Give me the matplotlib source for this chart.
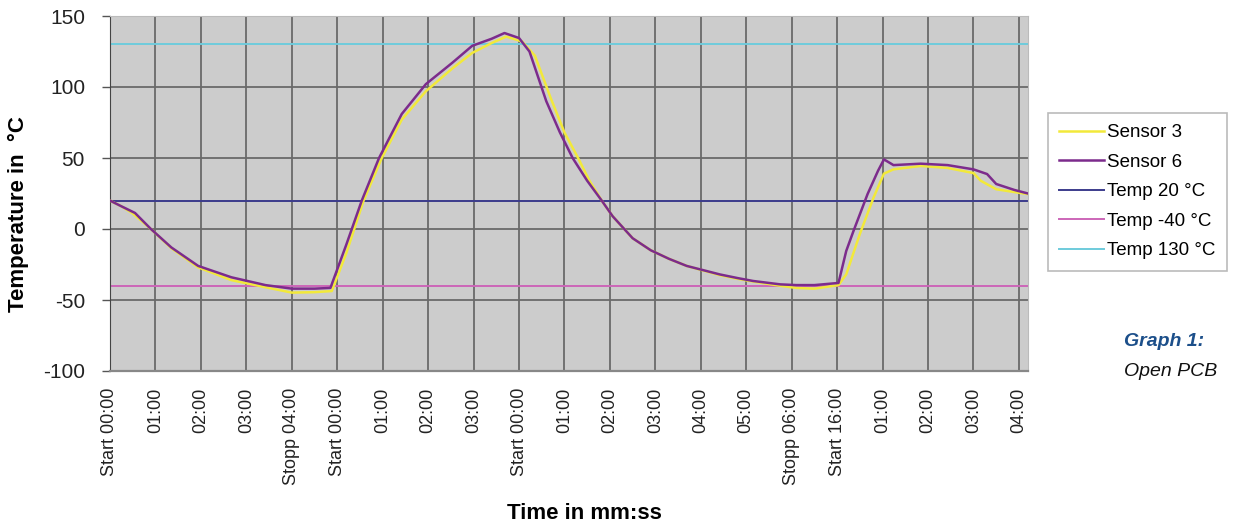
import numpy as np
import matplotlib
matplotlib.use("Agg")
import matplotlib.pyplot as plt

plt.rcParams['font.family'] = ['Liberation Sans', 'DejaVu Sans']
plt.rcParams['axes.unicode_minus'] = False

# _____________________________________
# Data (x = category position on the time axis)

tick_labels = ["Start 00:00", "01:00", "02:00", "03:00", "Stopp 04:00",
               "Start 00:00", "01:00", "02:00", "03:00", "Start 00:00",
               "01:00", "02:00", "03:00", "04:00", "05:00", "Stopp 06:00",
               "Start 16:00", "01:00", "02:00", "03:00", "04:00"]

# Sensor 3 (yellow)
t_s3 = [0, 0.25, 0.5, 0.9, 1.35, 1.94, 2.67, 3.42, 4.0, 4.5, 4.88,
        5.2, 5.58, 5.98, 6.42, 6.95, 7.53, 7.97, 8.4, 8.72, 9.07, 9.35,
        9.7, 10.0, 10.3, 10.55, 10.82, 11.06, 11.5, 11.9, 12.3, 12.69,
        13.42, 13.8, 14.15, 14.75, 15.1, 15.5, 16.03, 16.2, 16.5, 16.8,
        17.03, 17.24, 17.84, 18.43, 19.0, 19.16, 19.5, 19.9, 20.2]
sensor3 = [20, 16, 11, 0, -13.5, -27, -36, -41, -44.8, -44.5, -43.7,
           -17, 20, 50, 77, 97, 113, 124, 131, 135.5, 132, 122,
           92, 68, 50, 34, 20, 9, -6.5, -15, -21, -26,
           -32.5, -35, -37, -40, -41.5, -42, -39.5, -32, -3.5, 22,
           39, 42, 44.4, 43, 39.4, 34, 28, 26, 24.6]

# Sensor 6 (purple)
t_s6 = [0, 0.25, 0.55, 0.9, 1.35, 1.94, 2.67, 3.42, 4.0, 4.5, 4.85,
        5.2, 5.54, 5.92, 6.42, 6.95, 7.53, 7.97, 8.4, 8.68, 9.0, 9.23,
        9.6, 9.9, 10.18, 10.5, 10.82, 11.06, 11.5, 11.9, 12.3, 12.69,
        13.42, 13.8, 14.15, 14.75, 15.1, 15.5, 16.03, 16.2, 16.36, 16.67,
        16.9, 17.03, 17.24, 17.84, 18.43, 19.0, 19.3, 19.5, 19.9, 20.2]
sensor6 = [20, 16, 11.3, 0, -13, -26, -34, -39.5, -42, -42, -41.5,
           -11, 20, 50, 81, 102, 117, 129, 134, 138, 134.5, 125,
           90, 68, 50, 34, 20, 9, -6.5, -15, -21, -26,
           -32, -34.5, -36.6, -39, -39.5, -39.5, -38, -15.5, -1.4, 24.6,
           41, 49, 45, 46, 45, 42, 38.7, 31.7, 27.5, 25]

ref_labels = ["Temp 20 °C", "Temp -40 °C", "Temp 130 °C"]
ref_temps = [20, -40, 130]
ref_colors = ["#3c3c8c", "#cc66b8", "#6ecbdc"]

# _____________________________________
# Figure

fig = plt.figure(figsize=(12.36, 5.26), dpi=100)
ax = fig.add_axes([110/1236, 1 - 371/526, 918/1236, 355/526])
ax.set_facecolor("#cccccc")

ref_handles = []
for temp, col, lab in zip(ref_temps, ref_colors, ref_labels):
    h = ax.axhline(temp, color=col, lw=1.4, label=lab, zorder=2)
    ref_handles.append(h)

h3, = ax.plot(t_s3, sensor3, color="#f2e93a", lw=1.8, label="Sensor 3", zorder=3)
h6, = ax.plot(t_s6, sensor6, color="#7c2b8c", lw=1.8, label="Sensor 6", zorder=4)

ax.set_xlim(0, 20.2)
ax.set_ylim(-100, 150)
ax.set_yticks(np.arange(-100, 151, 50))
ax.set_xticks(np.arange(len(tick_labels)))
ax.set_xticklabels(tick_labels, rotation=90, fontsize=13, color="#222222")
ax.tick_params(axis='y', labelsize=15, length=6, width=1, color="#555555",
               pad=12, labelcolor="#222222")
ax.tick_params(axis='x', length=0, pad=12)
ax.grid(True, color="#6a6a6a", lw=1.3, zorder=1)
ax.set_axisbelow(True)

ax.spines['left'].set_color("#444444")
ax.spines['bottom'].set_color("#888888")
ax.spines['bottom'].set_linewidth(1.6)
ax.spines['top'].set_color("#bbbbbb")
ax.spines['right'].set_color("#bbbbbb")

ax.set_ylabel("Temperature in  °C", fontsize=16, fontweight='bold')
ax.yaxis.set_label_coords(-0.088, 0.442)
ax.set_xlabel("Time in mm:ss", fontsize=16, fontweight='bold')
ax.xaxis.set_label_coords(0.517, -0.372)

leg = fig.legend(handles=[h3, h6] + ref_handles,
                 loc='upper left', bbox_to_anchor=(1048/1236, 1 - 113/526),
                 fontsize=13.5, frameon=True, fancybox=False,
                 handlelength=2.4, handletextpad=0.15, labelspacing=0.66,
                 borderpad=0.6, borderaxespad=0)
leg.get_frame().set_edgecolor("#aaaaaa")
leg.get_frame().set_linewidth(1.2)

fig.text(1124/1236, 1 - 346/526, "Graph 1:", fontsize=14, fontweight='bold',
         fontstyle='italic', color="#1c4f8a")
fig.text(1124/1236, 1 - 376/526, "Open PCB", fontsize=14, fontstyle='italic',
         color="#111111")

fig.savefig("out.png", dpi=100)
